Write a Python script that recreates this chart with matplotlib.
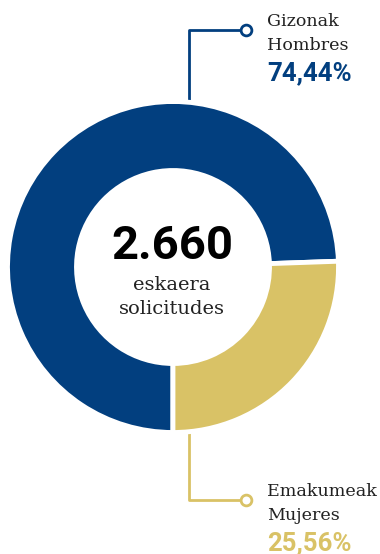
import matplotlib
matplotlib.use("Agg")
import matplotlib.pyplot as plt

# ---- data ----
labels_eu = ["Gizonak", "Emakumeak"]
labels_es = ["Hombres", "Mujeres"]
shares = [74.44, 25.56]
pct_labels = ["74,44%", "25,56%"]
total_label = "2.660"
total_sub = ["eskaera", "solicitudes"]

BLUE = "#023F7F"
GOLD = "#D9C266"
colors = [BLUE, GOLD]

W, H = 380, 554
fig = plt.figure(figsize=(W / 100, H / 100), dpi=100)
ax = fig.add_axes([0, 0, 1, 1])
ax.set_xlim(0, W)
ax.set_ylim(0, H)
ax.set_aspect("equal")
ax.axis("off")

cx, cy = 173, H - 267
R = 165.5
ring = 69

# leader lines (drawn beneath the donut)
lx = 189
ax.plot([lx, lx, 241], [cy + 140, H - 30, H - 30], color=BLUE, lw=2, zorder=1, solid_capstyle="butt")
ax.plot([lx, lx, 241], [cy - 140, H - 500, H - 500], color=GOLD, lw=2, zorder=1, solid_capstyle="butt")
ax.scatter([246], [H - 30], s=60, facecolor="white", edgecolor=BLUE, linewidth=2, zorder=3)
ax.scatter([246], [H - 500], s=60, facecolor="white", edgecolor=GOLD, linewidth=2, zorder=3)

wedges, _ = ax.pie(shares, colors=colors, startangle=2, counterclock=True,
                   radius=R, center=(cx, cy),
                   wedgeprops=dict(width=ring, edgecolor="white", linewidth=3.5))
for w in wedges:
    w.set_zorder(2)
ax.set_xlim(0, W)
ax.set_ylim(0, H)

serif = ["DejaVu Serif"]
sans = ["Roboto", "DejaVu Sans"]
# center text
ax.text(cx - 1, H - 246, total_label, ha="center", va="center", fontsize=34,
        fontweight="bold", family=sans, color="black", zorder=4)
ax.text(cx - 1, H - 285, total_sub[0], ha="center", va="center", fontsize=14,
        family=serif, color="#222222", zorder=4)
ax.text(cx - 1, H - 309, total_sub[1], ha="center", va="center", fontsize=14,
        family=serif, color="#222222", zorder=4)

# labels
tx = 267
lfs = 12.6
ax.text(tx, H - 21, labels_eu[0], ha="left", va="center", fontsize=lfs, family=serif, color="#222222")
ax.text(tx, H - 45, labels_es[0], ha="left", va="center", fontsize=lfs, family=serif, color="#222222")
ax.text(tx, H - 73, pct_labels[0], ha="left", va="center", fontsize=18.5, fontweight="bold",
        family=sans, color=BLUE)

ax.text(tx, H - 491, labels_eu[1], ha="left", va="center", fontsize=lfs, family=serif, color="#222222")
ax.text(tx, H - 515, labels_es[1], ha="left", va="center", fontsize=lfs, family=serif, color="#222222")
ax.text(tx, H - 543, pct_labels[1], ha="left", va="center", fontsize=18.5, fontweight="bold",
        family=sans, color=GOLD)

fig.savefig("out.png", dpi=100, facecolor="white")
